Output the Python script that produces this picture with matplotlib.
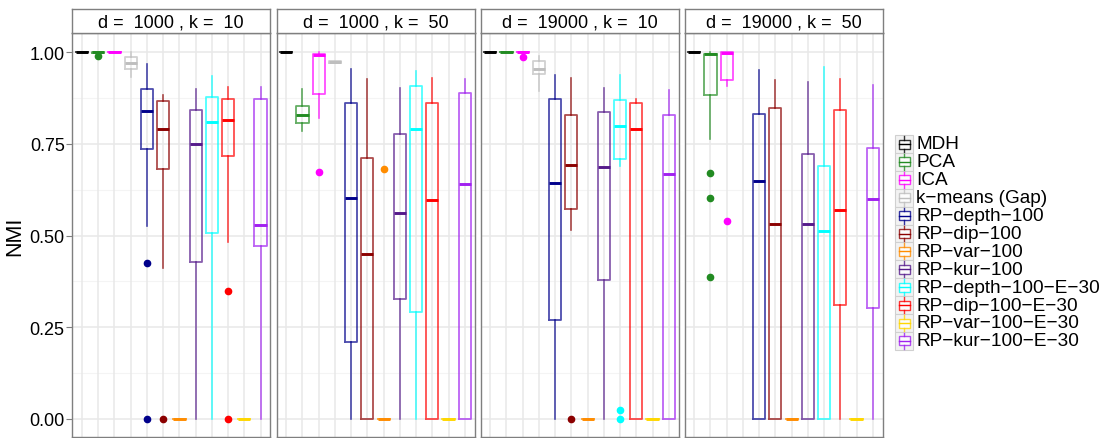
import numpy as np
import matplotlib
matplotlib.use("Agg")
import matplotlib.pyplot as plt
from matplotlib.patches import Rectangle

plt.rcParams['font.family'] = ['Liberation Sans', 'DejaVu Sans']

# Methoden und Farben
methods = ["MDH", "PCA", "ICA", "k-means (Gap)", "RP-depth-100", "RP-dip-100",
           "RP-var-100", "RP-kur-100", "RP-depth-100-E-30", "RP-dip-100-E-30",
           "RP-var-100-E-30", "RP-kur-100-E-30"]
colors = ["#000000", "#228B22", "#FF00FF", "#BEBEBE", "#00008B", "#8B0000",
          "#FF8C00", "#551A8B", "#00FFFF", "#FF0000", "#FFD700", "#A020F0"]
panels = ["d =  1000 , k =  10", "d =  1000 , k =  50",
          "d =  19000 , k =  10", "d =  19000 , k =  50"]

# Boxplot-Kennzahlen pro Panel (None = keine Daten)
whislo = [
    [1, 0.995, 1, 0.933, 0.527, 0.413, 0, 0, 0, 0.483, 0, 0],
    [1, 0.786, 0.822, 0.972, 0, 0, 0, 0, 0, 0, 0, 0],
    [1, 1, 1, 0.895, 0, 0.515, 0, 0, 0.690, 0, 0, 0],
    [1, 0.763, 0.908, None, 0, 0, 0, 0, 0, 0, 0, 0],
]
q1 = [
    [1, 0.997, 1, 0.954, 0.736, 0.683, 0, 0.427, 0.507, 0.716, 0, 0.472],
    [1, 0.808, 0.887, 0.972, 0.211, 0, 0, 0.327, 0.291, 0, 0, 0],
    [1, 1, 1, 0.940, 0.271, 0.572, 0, 0.380, 0.710, 0, 0, 0],
    [1, 0.883, 0.925, None, 0, 0, 0, 0, 0, 0.312, 0, 0.302],
]
med = [
    [1, 1, 1, 0.972, 0.840, 0.790, 0, 0.749, 0.810, 0.816, 0, 0.529],
    [1, 0.828, 0.992, 0.974, 0.604, 0.450, 0, 0.561, 0.792, 0.598, 0, 0.640],
    [1, 1, 1, 0.954, 0.643, 0.693, 0, 0.688, 0.799, 0.792, 0, 0.669],
    [1, 0.995, 0.997, None, 0.648, 0.533, 0, 0.533, 0.513, 0.569, 0, 0.599],
]
q3 = [
    [1, 1, 1, 0.986, 0.899, 0.867, 0, 0.843, 0.877, 0.872, 0, 0.872],
    [1, 0.854, 0.995, 0.976, 0.863, 0.713, 0, 0.778, 0.908, 0.861, 0, 0.888],
    [1, 1, 1, 0.975, 0.874, 0.828, 0, 0.836, 0.869, 0.861, 0, 0.829],
    [1, 0.995, 1.0, None, 0.831, 0.847, 0, 0.724, 0.689, 0.842, 0, 0.738],
]
whishi = [
    [1, 1, 1, 1.0, 0.969, 0.884, 0, 0.899, 0.935, 0.906, 0, 0.906],
    [1, 0.901, 1.0, 0.976, 0.954, 0.926, 0, 0.904, 0.949, 0.931, 0, 0.926],
    [1, 1, 1, 0.990, 0.937, 0.931, 0, 0.902, 0.937, 0.872, 0, 0.897],
    [1, 1.0, 1.0, None, 0.952, 0.925, 0, 0.920, 0.961, 0.926, 0, 0.910],
]
fliers = [
    [[], [0.99], [], [], [0.425, 0], [0], [], [], [], [0.348, 0], [], []],
    [[], [], [0.674], [], [], [], [0.683], [], [], [], [], []],
    [[], [], [0.988], [], [], [0], [], [], [0.025, 0], [], [], []],
    [[], [0.670, 0.602, 0.386], [0.540], [], [], [], [], [], [], [], [], []],
]
yticks = [0.0, 0.25, 0.5, 0.75, 1.0]

W, H = 1102, 439
fig = plt.figure(figsize=(W / 100, H / 100), dpi=100)

def px_axes(x0, y0, x1, y1):  # Pixel (oben-links) -> Figure-Koordinaten
    return fig.add_axes([x0 / W, 1 - y1 / H, (x1 - x0) / W, (y1 - y0) / H])

lefts = [72.3, 276.5, 480.5, 684.5]
pw = 198
top, bottom, strip_top = 34, 438.3, 10

for p in range(4):
    ax = px_axes(lefts[p], top, lefts[p] + pw, bottom)
    ax.set_xlim(0.4, 12.6)
    ax.set_ylim(-0.05, 1.0527)
    # Gitter
    for y in np.arange(0.125, 1.0, 0.25):
        ax.axhline(y, color="#F4F4F4", lw=0.8, zorder=0)
    for y in yticks:
        ax.axhline(y, color="#E8E8E8", lw=1.1, zorder=0)
    for x in range(1, 13):
        ax.axvline(x, color="#E8E8E8", lw=1.1, zorder=0)

    for i in range(12):
        if med[p][i] is None:
            continue
        st = [dict(med=med[p][i], q1=q1[p][i], q3=q3[p][i],
                   whislo=whislo[p][i], whishi=whishi[p][i], fliers=fliers[p][i])]
        c = colors[i]
        ax.bxp(st, positions=[i + 1], widths=0.75, showcaps=False,
               boxprops=dict(color=c, lw=1.3, alpha=0.7),
               whiskerprops=dict(color=c, lw=1.2, alpha=0.7),
               medianprops=dict(color=c, lw=2.1, solid_capstyle="butt"),
               flierprops=dict(marker="o", markerfacecolor=c, markeredgecolor=c,
                               markersize=4.5, linestyle="none"),
               manage_ticks=False)

    ax.set_xticks([])
    ax.set_yticks(yticks)
    if p == 0:
        ax.set_yticklabels([f"{v:.2f}" for v in yticks], fontsize=13)
        ax.tick_params(axis="y", length=4, color="#7F7F7F", pad=1.5)
        ax.set_ylabel("NMI", fontsize=15.5, labelpad=3)
    else:
        ax.tick_params(axis="y", length=0, labelleft=False)
    for s in ax.spines.values():
        s.set_color("#7F7F7F")
        s.set_linewidth(1.0)

    # Streifen oben
    sa = px_axes(lefts[p], strip_top, lefts[p] + pw, top)
    sa.set_xticks([])
    sa.set_yticks([])
    for s in sa.spines.values():
        s.set_color("#7F7F7F")
        s.set_linewidth(1.0)
    sa.text(0.5, 0.45, panels[p], ha="center", va="center", fontsize=13,
            transform=sa.transAxes)

# Legende (manuell gezeichnet)
lg = px_axes(893, 130, 1102, 356)
lg.set_xlim(893, 1102)
lg.set_ylim(356, 130)
lg.axis("off")
step = 17.9
for i, (m, c) in enumerate(zip(methods, colors)):
    yc = 145 + step * i
    lg.add_patch(Rectangle((895, yc - step / 2), 18, step, facecolor="#F2F2F2",
                           edgecolor="#D0D0D0", lw=0.8))
    lg.add_patch(Rectangle((898.5, yc - 4.5), 11, 9, facecolor="white",
                           edgecolor=c, lw=1.0, alpha=0.8))
    lg.plot([898.5, 909.5], [yc, yc], color=c, lw=1.0)
    lg.plot([904, 904], [yc - step / 2 + 1, yc - 4.5], color=c, lw=1.0, alpha=0.8)
    lg.plot([904, 904], [yc + 4.5, yc + step / 2 - 1], color=c, lw=1.0, alpha=0.8)
    lg.text(916, yc, m.replace("-", "\u2212"), va="center", ha="left", fontsize=13.7)

fig.savefig("out.png", dpi=100)
